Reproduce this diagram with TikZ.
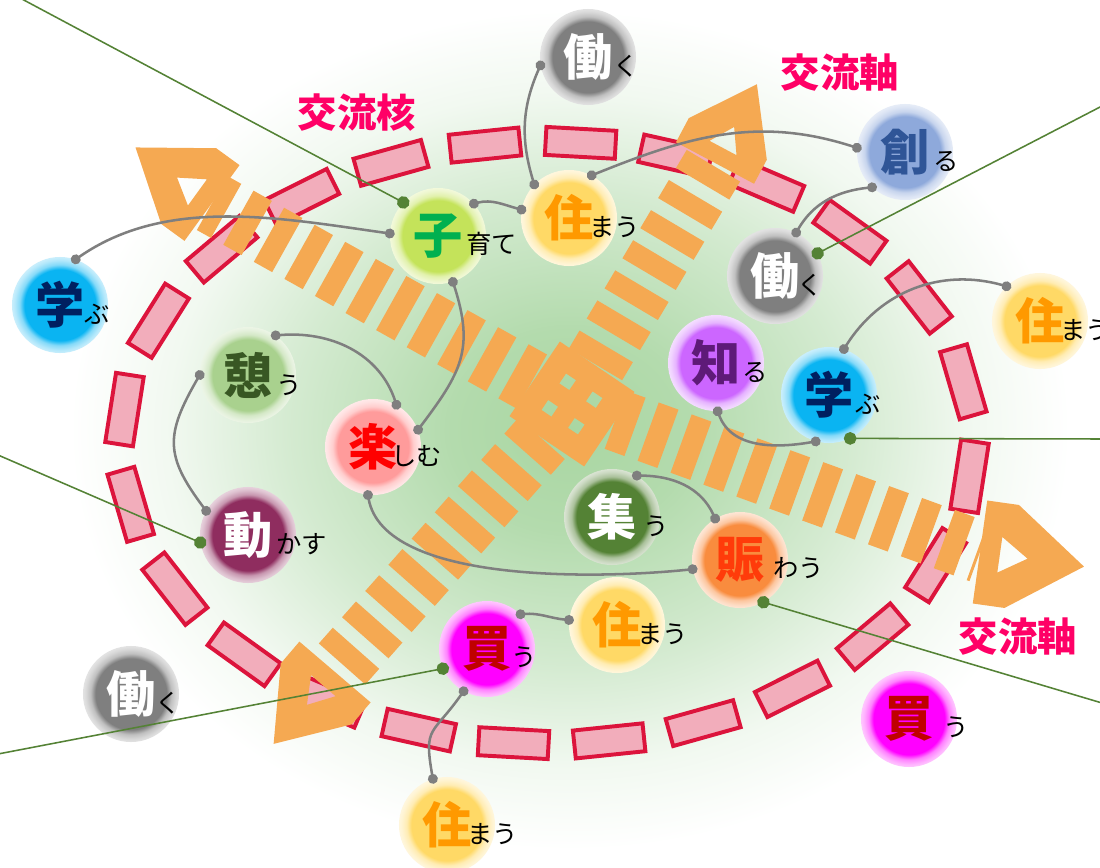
\documentclass[tikz,border=0pt]{standalone}
\usepackage{fontspec}
\newfontfamily\jp{Noto Sans CJK JP}
\usetikzlibrary{decorations.markings,arrows.meta}

\definecolor{glowgreen}{HTML}{A9D6A2}
\definecolor{axisorange}{HTML}{F5A952}
\definecolor{ringpink}{HTML}{F2ADBB}
\definecolor{ringred}{HTML}{DC143C}
\definecolor{hubpink}{HTML}{FF0066}
\definecolor{linkgray}{HTML}{7F7F7F}
\definecolor{leafgreen}{HTML}{548235}
% bubble colours
\definecolor{cGray}{HTML}{7F7F7F}
\definecolor{cCyan}{HTML}{0AB4F2}
\definecolor{cYellow}{HTML}{FFD966}
\definecolor{cLime}{HTML}{C4E35A}
\definecolor{cBlue}{HTML}{8EA9DB}
\definecolor{cPurple}{HTML}{CC66FF}
\definecolor{cSage}{HTML}{A9D18E}
\definecolor{cRose}{HTML}{FF9B9B}
\definecolor{cForest}{HTML}{548235}
\definecolor{cOrange}{HTML}{F98C3E}
\definecolor{cMaroon}{HTML}{8F2D5F}
\definecolor{cMagenta}{HTML}{FF00FF}
% kanji colours
\definecolor{kNavy}{HTML}{002060}
\definecolor{kOrange}{HTML}{FF9900}
\definecolor{kGreen}{HTML}{00B050}
\definecolor{kBlue}{HTML}{2F5597}
\definecolor{kPurple}{HTML}{5E1A78}
\definecolor{kMoss}{HTML}{385723}
\definecolor{kRed}{HTML}{FF0000}
\definecolor{kVermil}{HTML}{FF3B0A}
\definecolor{kDarkred}{HTML}{C00000}
\colorlet{bubcol}{cGray}

\pgfdeclareradialshading{glow}{\pgfpoint{0bp}{0bp}}{color(0bp)=(glowgreen); color(6bp)=(glowgreen!88!white); color(14bp)=(glowgreen!50!white); color(20bp)=(glowgreen!16!white); color(25bp)=(white); color(50bp)=(white)}
\pgfdeclareradialshading[bubcol]{bubble}{\pgfpoint{0bp}{0bp}}{color(0bp)=(bubcol); color(18.5bp)=(bubcol); color(21bp)=(bubcol!50!white); color(23.5bp)=(bubcol!30!white); color(25bp)=(bubcol!22!white); color(50bp)=(bubcol!22!white)}

\newcommand{\kanjifont}{\jp\bfseries\fontsize{35}{35}\selectfont}
\newcommand{\kanafont}{\jp\fontsize{18}{18}\selectfont}
\newcommand{\hubfont}{\jp\bfseries\fontsize{28}{28}\selectfont}

\tikzset{
  bub/.style 2 args={circle, minimum size=2.4cm, inner sep=0pt, shade, shading=bubble,
    /utils/exec={\colorlet{bubcol}{#1}}, text=#2, font=\kanjifont},
  okuri/.style={anchor=base west, inner sep=0pt, font=\kanafont, text=black},
  hubtext/.style={font=\hubfont, text=hubpink},
  ringdash/.style={fill=ringpink, draw=ringred, line width=2.8pt},
  axisbar/.style={draw=axisorange, line width=1.55cm, dash pattern=on 0.525cm off 0.35cm, shorten <=1.15cm},
  link/.style={draw=linkgray, line width=1.8pt, {Circle[length=7pt]}-{Circle[length=7pt]}, shorten <=-3.5pt, shorten >=-3.5pt},
  gline/.style={draw=leafgreen, line width=1.1pt, -{Circle[length=9pt]}, shorten >=-4.5pt},
  pics/axishead/.style={code={
    \fill[axisorange, even odd rule] (0,-52) -- (32,-52) -- (105,0) -- (32,52) -- (0,52) -- cycle
      (20,-18) -- (48,0) -- (20,18) -- cycle;
  }}
}

\begin{document}
\begin{tikzpicture}[x=0.025cm, y=-0.025cm]
\path[use as bounding box, fill=white] (0,0) rectangle (1100,868);

% soft green glow
\shade[shading=glow] (570,430) ellipse [x radius=12.5cm, y radius=10.5cm];

% dashed ring
\path[postaction={decorate}, decoration={markings,
    mark=between positions 0.027 and 1 step 0.041667 with {\filldraw[ringdash] (-35,-14) rectangle (35,14);}}]
  (547,443) ellipse [x radius=10.625cm, y radius=7.525cm];

% the two axes
\coordinate (cross) at (572,404);
\coordinate (ulEnd) at (212,203);
\coordinate (rEnd) at (980,552);
\coordinate (llEnd) at (335,672);
\coordinate (urEnd) at (715,163);
\draw[axisbar] (cross) -- (ulEnd);
\draw[axisbar] (cross) -- (rEnd);
\draw[axisbar] (cross) -- (llEnd);
\draw[axisbar] (cross) -- (urEnd);
\pic[rotate=144, scale=0.9] at (ulEnd) {axishead};
\pic[rotate=-8, scale=1] at (rEnd) {axishead};
\pic[rotate=229.5, scale=0.9] at (llEnd) {axishead};
\pic[rotate=62, scale=0.85] at (urEnd) {axishead};
\begin{scope}[shift={(cross)}, rotate=-34]
  \fill[axisorange, even odd rule] (-45,-45) rectangle (45,45)
    (-22,-22) rectangle (-10,-10) (10,-22) rectangle (22,-10)
    (-22,10) rectangle (-10,22) (10,10) rectangle (22,22);
\end{scope}

% labels
\node[hubtext] (coreLabel) at (357,113) {交流核};
\node[hubtext] (axisLabelA) at (840,73) {交流軸};
\node[hubtext] (axisLabelB) at (1018,637) {交流軸};

% bubbles
\node[bub={cGray}{white}] (hatarakuA) at (588,57) {働};
\node[okuri] (hatarakuA-k) at ([xshift=0.625cm]hatarakuA.base) {く};
\node[bub={cBlue}{kBlue}] (tsukuru) at (905,152) {創};
\node[okuri] (tsukuru-k) at ([xshift=0.7cm]tsukuru.base) {る};
\node[bub={cLime}{kGreen}] (kosodate) at (438,236) {子};
\node[okuri] (kosodate-k) at ([xshift=0.7cm]kosodate.base) {育て};
\node[bub={cYellow}{kOrange}] (sumauA) at (569,218) {住};
\node[okuri] (sumauA-k) at ([xshift=0.5cm]sumauA.base) {まう};
\node[bub={cGray}{white}] (hatarakuB) at (775,276) {働};
\node[okuri] (hatarakuB-k) at ([xshift=0.55cm]hatarakuB.base) {く};
\node[bub={cCyan}{kNavy}] (manabuA) at (60,305) {学};
\node[okuri] (manabuA-k) at ([xshift=0.6cm]manabuA.base) {ぶ};
\node[bub={cYellow}{kOrange}] (sumauB) at (1040,321) {住};
\node[okuri] (sumauB-k) at ([xshift=0.5cm]sumauB.base) {まう};
\node[bub={cPurple}{kPurple}] (shiru) at (716,363) {知};
\node[okuri] (shiru-k) at ([xshift=0.65cm]shiru.base) {る};
\node[bub={cCyan}{kNavy}] (manabuB) at (829,395) {学};
\node[okuri] (manabuB-k) at ([xshift=0.65cm]manabuB.base) {ぶ};
\node[bub={cSage}{kMoss}] (ikou) at (248,375) {憩};
\node[okuri] (ikou-k) at ([xshift=0.7cm]ikou.base) {う};
\node[bub={cRose}{kRed}] (tanoshimu) at (373,447) {楽};
\node[okuri] (tanoshimu-k) at ([xshift=0.45cm]tanoshimu.base) {しむ};
\node[bub={cForest}{white}] (tsudou) at (612,517) {集};
\node[okuri] (tsudou-k) at ([xshift=0.775cm]tsudou.base) {う};
\node[bub={cOrange}{kVermil}] (nigiwau) at (740,560) {賑};
\node[okuri] (nigiwau-k) at ([xshift=0.825cm]nigiwau.base) {わう};
\node[bub={cMaroon}{white}] (ugokasu) at (248,535) {動};
\node[okuri] (ugokasu-k) at ([xshift=0.7cm]ugokasu.base) {かす};
\node[bub={cYellow}{kOrange}] (sumauC) at (617,625) {住};
\node[okuri] (sumauC-k) at ([xshift=0.5cm]sumauC.base) {まう};
\node[bub={cMagenta}{kDarkred}] (kauA) at (487,649) {買};
\node[okuri] (kauA-k) at ([xshift=0.6cm]kauA.base) {う};
\node[bub={cGray}{white}] (hatarakuC) at (131,694) {働};
\node[okuri] (hatarakuC-k) at ([xshift=0.6cm]hatarakuC.base) {く};
\node[bub={cMagenta}{kDarkred}] (kauB) at (909,719) {買};
\node[okuri] (kauB-k) at ([xshift=0.85cm]kauB.base) {う};
\node[bub={cYellow}{kOrange}] (sumauD) at (447,825) {住};
\node[okuri] (sumauD-k) at ([xshift=0.5cm]sumauD.base) {まう};

% gray links
\draw[link] (hatarakuA.190) to[out=246, in=107] (sumauA.136);
\draw[link] (kosodate.42) to[out=15, in=165] (sumauA.170);
\draw[link] (sumauA.62) to[out=22, in=162] (tsukuru.175);
\draw[link] (tsukuru.227) to[out=186, in=60] (hatarakuB.64);
\draw[link] (manabuA.71) to[out=35, in=172, looseness=0.9] (kosodate.177);
\draw[link] (kosodate.288) to[out=-72, in=53, looseness=1.2] (tanoshimu.21);
\draw[link] (ikou.55) to[out=5, in=108] (tanoshimu.61);
\draw[link] (ikou.180) to[out=240, in=127, looseness=1.3] (ugokasu.150);
\draw[link] (manabuB.72) to[out=58, in=164] (sumauB.134);
\draw[link] (shiru.272) to[out=-70, in=190] (manabuB.254);
\draw[link] (tanoshimu.264) to[out=-80, in=186, looseness=0.7] (nigiwau.191);
\draw[link] (tsudou.59) to[out=0, in=114] (nigiwau.121);
\draw[link] (kauA.46) to[out=5, in=175] (sumauC.174);
\draw[link] (kauA.241) to[out=235, in=100, looseness=1.5] (sumauD.107);

% green leader lines
\coordinate (gA) at (20,-2);
\coordinate (gB) at (1102,106);
\coordinate (gC) at (-2,455);
\coordinate (gD) at (1102,439);
\coordinate (gE) at (-2,754);
\coordinate (gF) at (1102,703);
\draw[gline] (gA) -- (kosodate.136);
\draw[gline] (gB) -- (hatarakuB.28);
\draw[gline] (gC) -- (ugokasu.189);
\draw[gline] (gD) -- (manabuB.296);
\draw[gline] (gE) -- (kauA.204);
\draw[gline] (gF) -- (nigiwau.299);
\end{tikzpicture}
\end{document}
